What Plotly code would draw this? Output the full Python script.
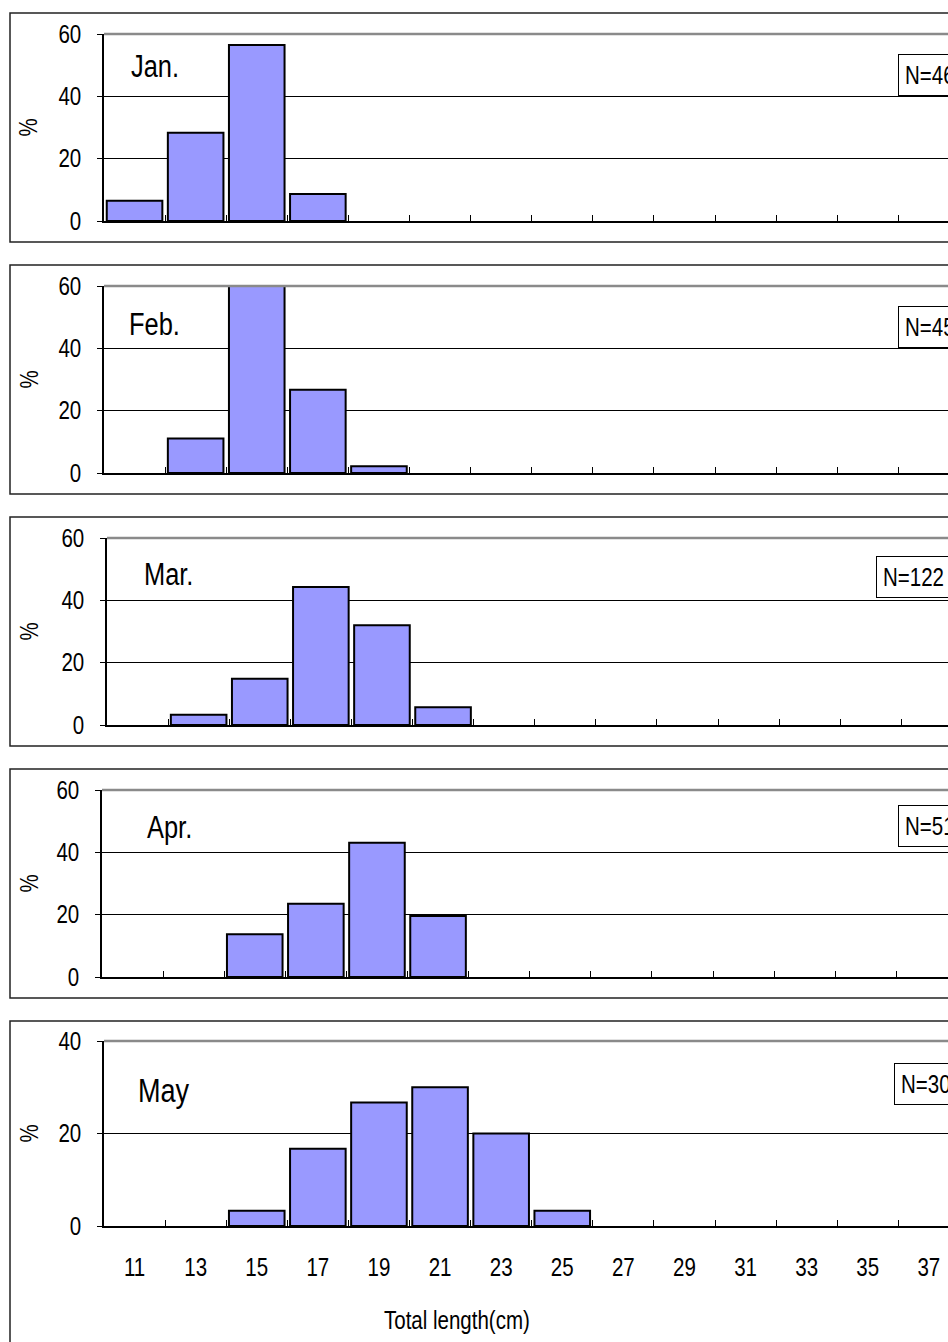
import plotly.graph_objects as go

# Length classes (cm) shared by every monthly panel
length_classes = ["11", "13", "15", "17", "19", "21", "23", "25",
                  "27", "29", "31", "33", "35", "37"]

months = ["Jan.", "Feb.", "Mar.", "Apr.", "May"]
sample_sizes = [46, 45, 122, 51, 30]

jan_classes = ["11", "13", "15", "17"]
jan_pct = [6.5, 28.3, 56.5, 8.7]

feb_classes = ["13", "15", "17", "19"]
feb_pct = [11.1, 60.0, 26.7, 2.2]

mar_classes = ["13", "15", "17", "19", "21"]
mar_pct = [3.3, 14.8, 44.3, 32.0, 5.7]

apr_classes = ["15", "17", "19", "21"]
apr_pct = [13.7, 23.5, 43.1, 19.6]

may_classes = ["15", "17", "19", "21", "23", "25"]
may_pct = [3.3, 16.7, 26.7, 30.0, 20.0, 3.3]

y_max = [60, 60, 60, 60, 40]
y_ticks = [[0, 20, 40, 60]] * 4 + [[0, 20, 40]]

series = [(jan_classes, jan_pct), (feb_classes, feb_pct), (mar_classes, mar_pct),
          (apr_classes, apr_pct), (may_classes, may_pct)]

W, H = 948, 1342
FONT = "Liberation Sans Narrow, Arial Narrow, Liberation Sans, Arial, sans-serif"
CAT_W = 61.1  # pixel width of one length class

# pixel geometry of each panel: plot left, plot top, plot bottom, frame top, frame bottom
panels = [
    (104, 34, 221, 13, 242),
    (104, 286, 473, 265, 494),
    (107, 538, 725, 517, 746),
    (102, 790, 977, 769, 998),
    (104, 1041, 1226, 1021, 1346),
]
# N= box: left edge and vertical centre
n_boxes = [(898, 75), (898, 327), (876, 577), (898, 826), (894, 1084)]
# month label: left edge and vertical centre
month_pos = [(129, 67), (127, 324), (142, 574), (145, 827), (136, 1090)]
month_size = [31, 31, 31, 31, 33]

fig = go.Figure()
layout = dict(
    width=W, height=H,
    margin=dict(l=0, r=0, t=0, b=0, pad=0, autoexpand=False),
    paper_bgcolor="white", plot_bgcolor="white",
    showlegend=False, bargap=0.09,
    font=dict(family=FONT, color="black", size=25),
)
shapes, annotations = [], []

for i, ((cls, pct), (left, top, bottom, ftop, fbot)) in enumerate(zip(series, panels)):
    n = i + 1
    key = "" if n == 1 else str(n)
    xa, ya = f"x{key}", f"y{key}"
    fig.add_trace(go.Bar(
        x=cls, y=pct, xaxis=xa, yaxis=ya,
        marker=dict(color="#9999FF", line=dict(color="black", width=2)),
        hoverinfo="x+y",
    ))
    layout[f"xaxis{key}"] = dict(
        domain=[left / W, 1], anchor=ya, automargin=False,
        type="category", categoryorder="array", categoryarray=length_classes,
        range=[-0.5, (W - left) / CAT_W - 0.5],
        showline=True, linecolor="black", linewidth=1.5,
        ticks="inside", ticklen=6, tickcolor="black", tickwidth=1,
        tickson="boundaries", showgrid=False, zeroline=False,
        showticklabels=(n == 5), tickfont=dict(size=25, family=FONT),
        ticklabelstandoff=18,
    )
    layout[f"yaxis{key}"] = dict(
        domain=[1 - bottom / H, 1 - top / H], anchor=xa, automargin=False,
        range=[0, y_max[i]], tickvals=y_ticks[i],
        showgrid=True, gridcolor="black", gridwidth=1,
        showline=True, linecolor="black", linewidth=1.5,
        ticks="outside", ticklen=5, tickcolor="black",
        zeroline=False, tickfont=dict(size=25, family=FONT),
        ticklabelstandoff=11,
    )
    # grey top border of the plotting area
    shapes.append(dict(type="line", xref=f"{xa} domain", yref=f"{ya} domain",
                       x0=0, x1=1.05, y0=1, y1=1,
                       line=dict(color="#8a8a8a", width=2.5)))
    # frame around the panel
    shapes.append(dict(type="rect", xref="paper", yref="paper",
                       x0=10 / W, x1=1.05, y0=1 - fbot / H, y1=1 - ftop / H,
                       line=dict(color="#222222", width=1.5)))
    # month label
    mx, my = month_pos[i]
    annotations.append(dict(text=months[i], xref="paper", yref="paper",
                            x=mx / W, y=1 - my / H, xanchor="left", yanchor="middle",
                            align="left", showarrow=False,
                            font=dict(size=month_size[i], family=FONT)))
    # sample size box
    bx, by = n_boxes[i]
    annotations.append(dict(text=f"N={sample_sizes[i]}", xref="paper", yref="paper",
                            x=bx / W, y=1 - by / H, xanchor="left", yanchor="middle",
                            align="left", showarrow=False, bordercolor="black",
                            borderwidth=1, borderpad=6, bgcolor="white",
                            font=dict(size=25, family=FONT)))
    # y-axis title
    annotations.append(dict(text="%", xref="paper", yref="paper",
                            x=28 / W, y=1 - (top + bottom) / 2 / H,
                            xanchor="center", yanchor="middle", textangle=-90,
                            showarrow=False, font=dict(size=25, family=FONT)))

annotations.append(dict(text="Total length(cm)", xref="paper", yref="paper",
                        x=457 / W, y=1 - 1320 / H, xanchor="center", yanchor="middle",
                        showarrow=False, font=dict(size=25, family=FONT)))

layout["shapes"] = shapes
layout["annotations"] = annotations
fig.update_layout(**layout)

# Narrow-face lettering: squeeze each label's advance width when no
# condensed font is available on the system.
condense_js = """
(function(){
  var gd = document.getElementById('{plot_id}');
  function condense(){
    gd.querySelectorAll('text').forEach(function(t){
      if (t.getAttribute('data-narrow')) return;
      var w = t.getComputedTextLength();
      if (w > 0) {
        t.setAttribute('textLength', (w * 0.82).toFixed(2));
        t.setAttribute('lengthAdjust', 'spacingAndGlyphs');
        t.setAttribute('data-narrow', '1');
      }
    });
  }
  condense();
  if (gd.on) gd.on('plotly_afterplot', condense);
})();
"""
fig.write_html("out.html", post_script=condense_js, config={"displayModeBar": False})
